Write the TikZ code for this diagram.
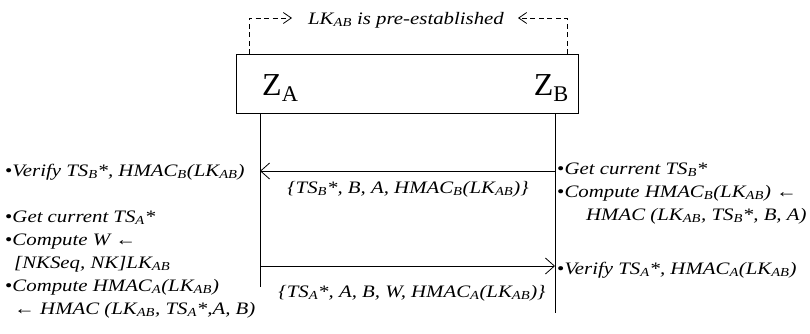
\documentclass[tikz,border=0pt]{standalone}
\usepackage{fontspec}
\setmainfont{Liberation Serif}
\newfontfamily\widefont[FakeStretch=1.19]{Liberation Serif}
\usetikzlibrary{arrows.meta}
\newcommand{\sbs}[1]{\textsubscript{#1}}
\begin{document}
\begin{tikzpicture}[x=1pt,y=-1pt,
  txt/.style={anchor=base west,inner sep=0pt,font=\widefont\fontsize{17.5}{20}\selectfont\itshape},
  msg/.style={anchor=base,inner sep=0pt,font=\widefont\fontsize{17.5}{20}\selectfont\itshape},
  life/.style={line width=0.8pt},
  arr/.style={line width=0.8pt,-{Straight Barb[length=9pt,width=16pt,line width=0.8pt]}},
  darr/.style={line width=0.8pt,dash pattern=on 5pt off 3.5pt,-{Straight Barb[length=8pt,width=11pt,line width=0.8pt]}}]
\useasboundingbox (0,0) rectangle (810,333);
% header box
\node[draw,line width=1pt,minimum width=342pt,minimum height=59pt,inner sep=0pt] (box) at (407,84) {};
\node[anchor=base west,inner sep=0pt,font=\fontsize{32}{34}\selectfont] (za) at (262,95) {Z\sbs{A}};
\node[anchor=base east,inner sep=0pt,font=\fontsize{32}{34}\selectfont] (zb) at (569,95) {Z\sbs{B}};
% pre-established
\node[msg] (pre) at (406,24) {LK\sbs{AB} is pre-established};
\coordinate (pl0) at (249,54);
\coordinate (pl1) at (249,18);
\coordinate (pl2) at (292,18);
\coordinate (pr0) at (567,54);
\coordinate (pr1) at (567,18);
\coordinate (pr2) at (518,18);
\draw[darr] (pl0) -- (pl1) -- (pl2);
\draw[darr] (pr0) -- (pr1) -- (pr2);
% lifelines
\coordinate (la0) at (260,113.5);
\coordinate (la1) at (260,287);
\coordinate (lb0) at (555,113.5);
\coordinate (lb1) at (555,313);
\draw[life] (la0) -- (la1);
\draw[life] (lb0) -- (lb1);
% messages
\coordinate (m1b) at (555,171);
\coordinate (m1a) at (260,171);
\draw[arr] (m1b) -- (m1a);
\node[msg] (l1) at (408,193) {\{TS\sbs{B}*, B, A, HMAC\sbs{B}(LK\sbs{AB})\}};
\coordinate (m2a) at (260,266);
\coordinate (m2b) at (555,266);
\draw[arr] (m2a) -- (m2b);
\node[msg] (l2) at (412,297) {\{TS\sbs{A}*, A, B, W, HMAC\sbs{A}(LK\sbs{AB})\}};
% left texts
\node[txt] (t1) at (5,176) {\upshape•\itshape Verify TS\sbs{B}*, HMAC\sbs{B}(LK\sbs{AB})};
\node[txt] (t2) at (5,222) {\upshape•\itshape Get current TS\sbs{A}*};
\node[txt] (t3) at (5,245) {\upshape•\itshape Compute W \upshape←};
\node[txt] (t4) at (14,268) {[NKSeq, NK]LK\sbs{AB}};
\node[txt] (t5) at (5,291) {\upshape•\itshape Compute HMAC\sbs{A}(LK\sbs{AB})};
\node[txt] (t6) at (14,314) {\upshape←\itshape\ HMAC (LK\sbs{AB}, TS\sbs{A}*,A, B)};
% right texts
\node[txt] (r1) at (557,174) {\upshape•\itshape Get current TS\sbs{B}*};
\node[txt] (r2) at (557,197) {\upshape•\itshape Compute HMAC\sbs{B}(LK\sbs{AB}) \upshape←};
\node[txt] (r3) at (586,220) {HMAC (LK\sbs{AB}, TS\sbs{B}*, B, A)};
\node[txt] (r4) at (557,274) {\upshape•\itshape Verify TS\sbs{A}*, HMAC\sbs{A}(LK\sbs{AB})};
\end{tikzpicture}
\end{document}
